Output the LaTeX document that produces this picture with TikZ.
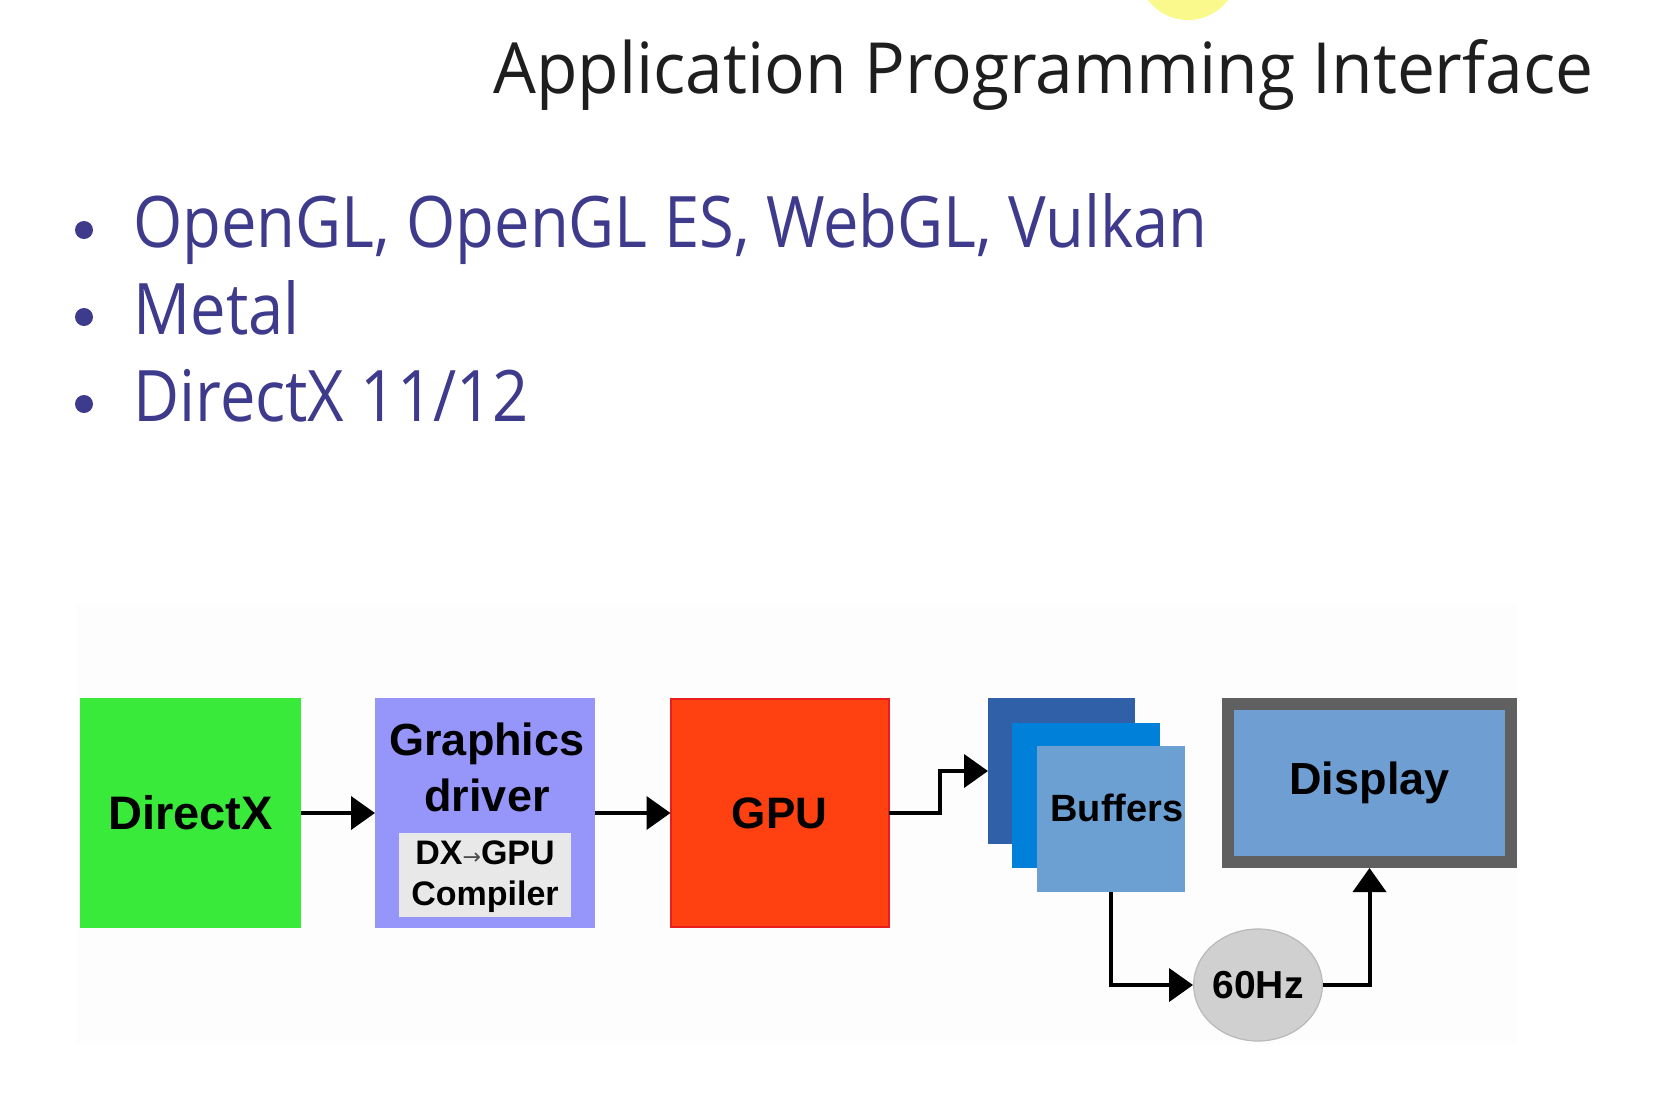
\documentclass[tikz,border=0pt]{standalone}
\usepackage{fontspec}
\usepackage{graphicx}
\usetikzlibrary{arrows.meta,shapes.geometric}
\setmainfont{Liberation Sans}
\newfontfamily\tfont{Open Sans}
\newfontfamily\dfont{Liberation Sans}
\newfontfamily\symfont{DejaVu Sans}
\definecolor{ctitle}{RGB}{30,30,30}
\definecolor{cbul}{RGB}{62,58,140}
\definecolor{cgreen}{RGB}{58,234,58}
\definecolor{cdrv}{RGB}{150,150,250}
\definecolor{cinner}{RGB}{232,232,232}
\definecolor{cgpu}{RGB}{255,64,16}
\definecolor{cgpub}{RGB}{232,30,30}
\definecolor{cbufa}{RGB}{48,96,168}
\definecolor{cbufb}{RGB}{0,128,216}
\definecolor{cbufc}{RGB}{108,160,210}
\definecolor{cframe}{RGB}{96,96,96}
\definecolor{cdisp}{RGB}{110,158,210}
\definecolor{ccirc}{RGB}{208,208,208}
\definecolor{ccircb}{RGB}{185,185,185}
\definecolor{cpanel}{RGB}{253,253,253}
\definecolor{cyel}{RGB}{250,250,140}
\newsavebox\tbox
\newsavebox\bbox
\newlength\tWd \newlength\tHt
\newlength\bWd \newlength\bHt
\newcommand\bulsize{\tfont\fontsize{40}{40}\selectfont}
\begin{document}
\sbox\tbox{\tfont\fontsize{40}{40}\selectfont Application Programming Interface}
\setlength\tWd{\wd\tbox}\setlength\tHt{\ht\tbox}
\pgfmathsetmacro\tsx{550/\tWd}
\pgfmathsetmacro\tsy{27/\tHt}
\sbox\bbox{\bulsize OpenGL, OpenGL ES, WebGL, Vulkan}
\setlength\bWd{\wd\bbox}\setlength\bHt{\ht\bbox}
\pgfmathsetmacro\bsx{537/\bWd}
\pgfmathsetmacro\bsy{27/\bHt}
\begin{tikzpicture}[x=0.5pt,y=-0.5pt,
  box/.style={rectangle, inner sep=0pt, outer sep=0pt},
  lbl/.style={inner sep=0pt, font=\dfont\bfseries\fontsize{22.5}{22.5}\selectfont},
  lbls/.style={inner sep=0pt, font=\dfont\bfseries\fontsize{17}{17}\selectfont},
  arr/.style={line width=2pt, -{Triangle[length=12pt,width=16.5pt]}},
  bdot/.style={circle, fill=cbul, inner sep=0pt, minimum size=9pt},
  btext/.style={anchor=base west, inner sep=0pt, text=cbul}]
\useasboundingbox (0,0) rectangle (1679,1093);
\fill[white] (0,0) rectangle (1679,1093);
\fill[cyel] (1188,-30) circle (50);
\fill[cpanel] (77,605) rectangle (1517,1044);
% title
\node[anchor=base west, inner sep=0pt, text=ctitle] (title) at (493,93) {\scalebox{\tsx}[\tsy]{\tfont\fontsize{40}{40}\selectfont Application Programming Interface}};
% bullets
\node[bdot] (d1) at (84,230) {};
\node[bdot] (d2) at (84,317) {};
\node[bdot] (d3) at (84,404) {};
\node[btext] (b1) at (133,247) {\scalebox{\bsx}[\bsy]{\bulsize OpenGL, OpenGL ES, WebGL, Vulkan}};
\node[btext] (b2) at (133,334) {\scalebox{\bsx}[\bsy]{\bulsize Metal}};
\node[btext] (b3) at (133,421) {\scalebox{\bsx}[\bsy]{\bulsize DirectX 11/12}};
% diagram
\node[box, fill=cgreen, minimum width=110.5pt, minimum height=115pt,
  font=\dfont\bfseries\fontsize{23.5}{23.5}\selectfont] (dx) at (190.5,813) {DirectX};
\node[box, fill=cdrv, minimum width=110pt, minimum height=115pt] (drv) at (485,813) {};
\node[lbl, anchor=base] (g1) at (487,755) {Graphics};
\node[lbl, anchor=base] (g2) at (487,811) {driver};
\node[box, fill=cinner, minimum width=86pt, minimum height=42pt] (cmp) at (485,875) {};
\node[lbls, anchor=base] (c1) at (485,864) {DX{\symfont\mdseries\fontsize{11}{11}\selectfont\textcolor{black!70}{→}}GPU};
\node[lbls, anchor=base] (c2) at (485,905) {Compiler};
\node[box, fill=cgpu, draw=cgpub, line width=1pt, minimum width=109pt, minimum height=114pt,
  font=\dfont\bfseries\fontsize{22}{22}\selectfont] (gpu) at (779.5,813) {GPU};
\node[box, fill=cbufa, minimum width=73.5pt, minimum height=73pt] (buf1) at (1061.5,771) {};
\node[box, fill=cbufb, minimum width=74pt, minimum height=72.5pt] (buf2) at (1086,795.5) {};
\node[box, fill=cbufc, minimum width=74pt, minimum height=73pt] (buf3) at (1111,819) {};
\node[inner sep=0pt, font=\dfont\bfseries\fontsize{19}{19}\selectfont] (bt) at (1117,808) {Buffers};
\node[box, fill=cdisp, draw=cframe, line width=6pt, outer sep=3pt, minimum width=141.5pt, minimum height=79pt,
  font=\dfont\bfseries\fontsize{22.5}{22.5}\selectfont] (disp) at (1369.5,783) {Display};
\node[ellipse, fill=ccirc, draw=ccircb, line width=0.6pt, inner sep=0pt, minimum width=61.5pt, minimum height=56pt,
  font=\dfont\bfseries\fontsize{19.5}{19.5}\selectfont] (hz) at (1258,985) {60Hz};
% connectors
\draw[arr] (dx) -- (drv);
\draw[arr] (drv) -- (gpu);
\draw[arr] (gpu.east) -- ++(25.5pt,0) |- (buf1.west);
\draw[arr] (buf3.south) |- (hz.west);
\draw[arr] (hz.east) -| (disp.south);
\end{tikzpicture}
\end{document}
